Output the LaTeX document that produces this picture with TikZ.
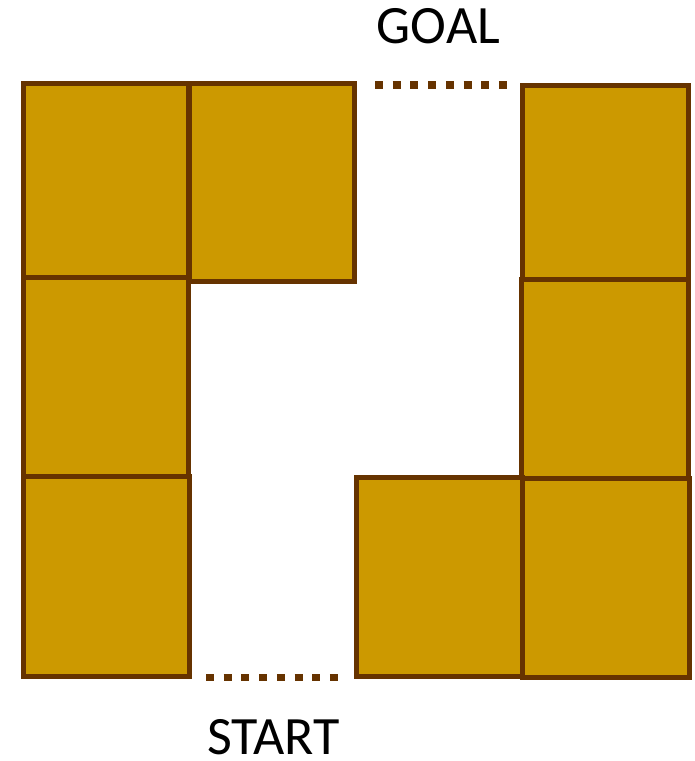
\documentclass[tikz,border=0pt]{standalone}
\usepackage{fontspec}
\setmainfont{Carlito}
\definecolor{boxfill}{HTML}{CC9900}
\definecolor{boxline}{HTML}{663300}
\begin{document}
\begin{tikzpicture}[x=1pt,y=-1pt,
  tile/.style={draw=boxline,fill=boxfill,line width=5pt},
  gap/.style={draw=boxline,line width=7.5pt,dash pattern=on 8pt off 9.7pt},
  lbl/.style={font=\fontsize{54}{54}\selectfont,anchor=base,inner sep=0pt}]
\useasboundingbox (0,0) rectangle (695,761);
% left column
\path[tile] (23.5,83) rectangle (188.5,277);
\path[tile] (23,277) rectangle (188.5,476);
\path[tile] (23.5,476.5) rectangle (189,676);
% top second
\path[tile] (189,83) rectangle (354.5,281.5);
% right column
\path[tile] (522.5,85) rectangle (688.5,279);
\path[tile] (521.5,279) rectangle (688,478);
\path[tile] (522.5,478) rectangle (689,677.5);
% bottom middle
\path[tile] (356,477) rectangle (522.5,676);
% dotted gaps
\coordinate (g1) at (375,85);
\coordinate (g2) at (507,85);
\coordinate (s1) at (206,677.5);
\coordinate (s2) at (338,677.5);
\draw[gap] (g1) -- (g2);
\draw[gap] (s1) -- (s2);
\node[lbl] (goal) at (438.5,43) {GOAL};
\node[lbl] (start) at (273.5,754) {START};
\end{tikzpicture}
\end{document}
